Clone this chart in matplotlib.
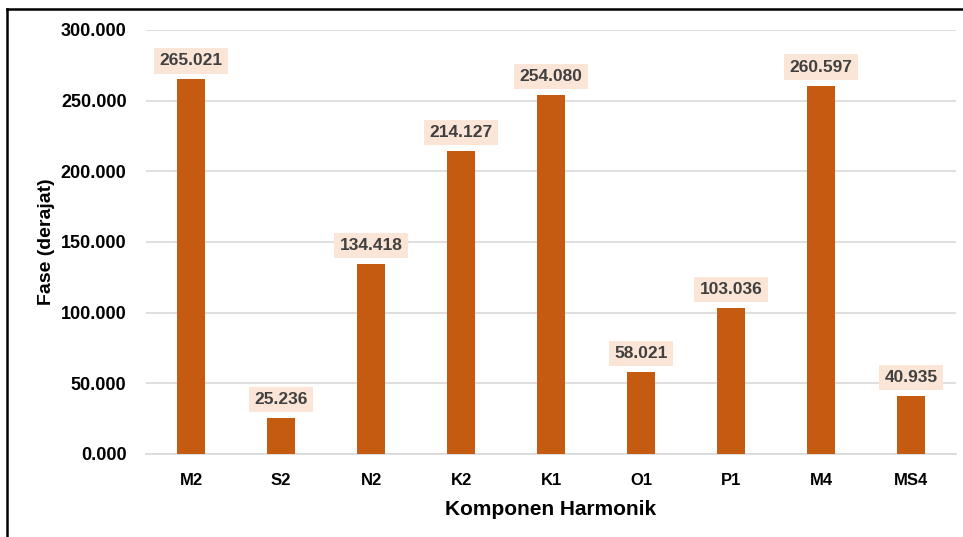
import matplotlib.pyplot as plt
import numpy as np

komponen = ["M2", "S2", "N2", "K2", "K1", "O1", "P1", "M4", "MS4"]
fase = [265.021, 25.236, 134.418, 214.127, 254.080, 58.021, 103.036, 260.597, 40.935]
y_ticks = [0, 50, 100, 150, 200, 250, 300]

plt.rcParams['font.family'] = ['Liberation Sans', 'DejaVu Sans']

fig = plt.figure(figsize=(9.63, 5.37), dpi=100)
ax = fig.add_axes([146 / 963, 1 - 454 / 537, 810 / 963, 424 / 537])

x = np.arange(len(komponen))
bars = ax.bar(x, fase, width=0.31, color="#C55A11", zorder=3)

for xi, v in zip(x, fase):
    ax.annotate(f"{v:.3f}", (xi, v), xytext=(0, 8), textcoords="offset points",
                ha="center", va="bottom", fontsize=12.5, fontweight="bold",
                color="#404040",
                bbox=dict(boxstyle="square,pad=0.3", fc="#FBE5D6", ec="none"))

ax.set_xlim(-0.5, len(komponen) - 0.5)
ax.set_ylim(0, 300)
ax.set_yticks(y_ticks)
ax.set_yticklabels([f"{t:.3f}" for t in y_ticks])
ax.set_xticks(x)
ax.set_xticklabels(komponen)
ax.tick_params(axis="both", length=0)
ax.tick_params(axis="y", pad=14, labelsize=13)
ax.tick_params(axis="x", pad=14, labelsize=12)
for lab in ax.get_xticklabels() + ax.get_yticklabels():
    lab.set_fontweight("bold")

ax.grid(axis="y", color="#D9D9D9", linewidth=1.2, zorder=0)
for s in ["top", "right", "left"]:
    ax.spines[s].set_visible(False)
ax.spines["bottom"].set_color("#D9D9D9")
ax.spines["bottom"].set_linewidth(1.2)

ax.set_ylabel("Fase (derajat)", fontsize=14, fontweight="bold", labelpad=4)
ax.set_xlabel("Komponen Harmonik", fontsize=15, fontweight="bold", labelpad=8)

# outer border (left and top only)
fig.add_artist(plt.Line2D([7 / 963, 7 / 963], [0, 1 - 9 / 537], color="black", linewidth=1.8))
fig.add_artist(plt.Line2D([7 / 963, 1], [1 - 9 / 537, 1 - 9 / 537], color="black", linewidth=1.8))

fig.savefig("out.png", dpi=100)
